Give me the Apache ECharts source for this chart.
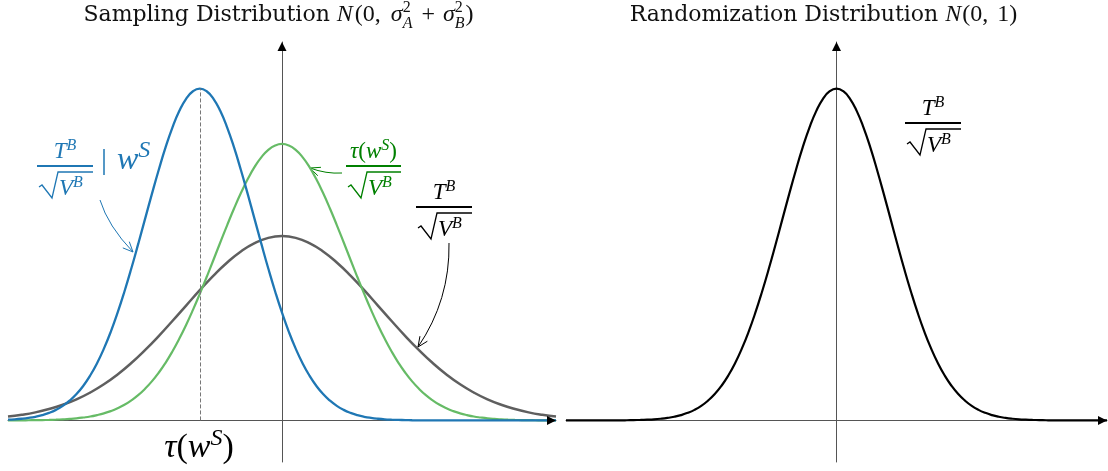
<!DOCTYPE html>
<html>
<head>
<meta charset="utf-8">
<script src="https://cdn.jsdelivr.net/npm/echarts@6/dist/echarts.min.js"></script>
<style>
    html, body { margin: 0; padding: 0; background: #fff; }
    #cn { width: 1108px; height: 471px; }
</style>
</head>
<body>
<div id="cn"></div>
<script>
'use strict';

// x positions, step 0.125 (blue, green, black curves)
const arrXFine = [-5, -4.875, -4.75, -4.625, -4.5, -4.375, -4.25, -4.125, -4, -3.875, -3.75, -3.625, -3.5, -3.375, -3.25, -3.125, -3, -2.875, -2.75, -2.625,
    -2.5, -2.375, -2.25, -2.125, -2, -1.875, -1.75, -1.625, -1.5, -1.375, -1.25, -1.125, -1, -0.875, -0.75, -0.625, -0.5, -0.375, -0.25, -0.125,
    0, 0.125, 0.25, 0.375, 0.5, 0.625, 0.75, 0.875, 1, 1.125, 1.25, 1.375, 1.5, 1.625, 1.75, 1.875, 2, 2.125, 2.25, 2.375,
    2.5, 2.625, 2.75, 2.875, 3, 3.125, 3.25, 3.375, 3.5, 3.625, 3.75, 3.875, 4, 4.125, 4.25, 4.375, 4.5, 4.625, 4.75, 4.875, 5];
// x positions, step 0.25 (gray curve)
const arrX = [-5, -4.75, -4.5, -4.25, -4, -3.75, -3.5, -3.25, -3, -2.75, -2.5, -2.25, -2, -1.75, -1.5, -1.25, -1, -0.75, -0.5, -0.25,
    0, 0.25, 0.5, 0.75, 1, 1.25, 1.5, 1.75, 2, 2.25, 2.5, 2.75, 3, 3.25, 3.5, 3.75, 4, 4.25, 4.5, 4.75, 5];

// left panel: T^B/sqrt(V^B) | w^S  (shifted, narrow)
const arrBlue = [0.0009, 0.0013, 0.0020, 0.0030, 0.0044, 0.0064, 0.0091, 0.0127, 0.0175, 0.0238, 0.0317, 0.0417, 0.0540, 0.0688, 0.0863, 0.1065, 0.1295, 0.1550, 0.1826, 0.2119,
    0.2420, 0.2721, 0.3011, 0.3282, 0.3521, 0.3719, 0.3867, 0.3958, 0.3989, 0.3958, 0.3867, 0.3719, 0.3521, 0.3282, 0.3011, 0.2721, 0.2420, 0.2119, 0.1826, 0.1550,
    0.1295, 0.1065, 0.0863, 0.0688, 0.0540, 0.0417, 0.0317, 0.0238, 0.0175, 0.0127, 0.0091, 0.0064, 0.0044, 0.0030, 0.0020, 0.0013, 0.0009, 0.0006, 0.0004, 0.0002,
    0.0001, 0.0001, 0, 0, 0, 0, 0, 0, 0, 0, 0, 0, 0, 0, 0, 0, 0, 0, 0, 0, 0];
// left panel: tau(w^S)/sqrt(V^B)
const arrGreen = [0.0001, 0.0001, 0.0001, 0.0002, 0.0003, 0.0004, 0.0006, 0.0009, 0.0013, 0.0018, 0.0025, 0.0035, 0.0047, 0.0064, 0.0085, 0.0112, 0.0146, 0.0188, 0.0241, 0.0304,
    0.0380, 0.0469, 0.0573, 0.0693, 0.0829, 0.0981, 0.1148, 0.1329, 0.1522, 0.1724, 0.1932, 0.2142, 0.2349, 0.2548, 0.2734, 0.2902, 0.3048, 0.3166, 0.3253, 0.3306,
    0.3324, 0.3306, 0.3253, 0.3166, 0.3048, 0.2902, 0.2734, 0.2548, 0.2349, 0.2142, 0.1932, 0.1724, 0.1522, 0.1329, 0.1148, 0.0981, 0.0829, 0.0693, 0.0573, 0.0469,
    0.0380, 0.0304, 0.0241, 0.0188, 0.0146, 0.0112, 0.0085, 0.0064, 0.0047, 0.0035, 0.0025, 0.0018, 0.0013, 0.0009, 0.0006, 0.0004, 0.0003, 0.0002, 0.0001, 0.0001, 0.0001];
// left panel: T^B/sqrt(V^B) (wide)
const arrGray = [0.0047, 0.0068, 0.0097, 0.0137, 0.0188, 0.0253, 0.0335, 0.0434, 0.0553, 0.0690, 0.0845, 0.1014, 0.1195, 0.1381, 0.1566, 0.1741, 0.1899, 0.2032, 0.2132, 0.2195,
    0.2216, 0.2195, 0.2132, 0.2032, 0.1899, 0.1741, 0.1566, 0.1381, 0.1195, 0.1014, 0.0845, 0.0690, 0.0553, 0.0434, 0.0335, 0.0253, 0.0188, 0.0137, 0.0097, 0.0068, 0.0047];
// right panel: N(0,1)
const arrBlack = [0, 0, 0, 0, 0, 0, 0, 0.0001, 0.0001, 0.0002, 0.0004, 0.0006, 0.0009, 0.0013, 0.0020, 0.0030, 0.0044, 0.0064, 0.0091, 0.0127,
    0.0175, 0.0238, 0.0317, 0.0417, 0.0540, 0.0688, 0.0863, 0.1065, 0.1295, 0.1550, 0.1826, 0.2119, 0.2420, 0.2721, 0.3011, 0.3282, 0.3521, 0.3719, 0.3867, 0.3958,
    0.3989, 0.3958, 0.3867, 0.3719, 0.3521, 0.3282, 0.3011, 0.2721, 0.2420, 0.2119, 0.1826, 0.1550, 0.1295, 0.1065, 0.0863, 0.0688, 0.0540, 0.0417, 0.0317, 0.0238,
    0.0175, 0.0127, 0.0091, 0.0064, 0.0044, 0.0030, 0.0020, 0.0013, 0.0009, 0.0006, 0.0004, 0.0002, 0.0001, 0.0001, 0, 0, 0, 0, 0, 0, 0];

const blueCenter = -1.5; // tau(w^S), marked with the dashed line
const blueTop = 0.3989;

const xMin = -5, xMax = 5;
const yMin = -0.05, yMax = 0.455;

const chart = echarts.init(document.getElementById('cn'));

const toPairs = (xs, arr) => xs.map((x, i) => [x, arr[i]]);

const mkX = gridIndex => ({
    type: 'value', gridIndex: gridIndex, min: xMin, max: xMax,
    axisLine: { show: true, onZero: true, lineStyle: { color: '#555', width: 1 } },
    axisTick: { show: false }, axisLabel: { show: false }, splitLine: { show: false }
});
const mkY = gridIndex => ({
    type: 'value', gridIndex: gridIndex, min: yMin, max: yMax,
    axisLine: { show: true, onZero: true, lineStyle: { color: '#555', width: 1 } },
    axisTick: { show: false }, axisLabel: { show: false }, splitLine: { show: false }
});
const mkLine = (name, xs, arr, color, width, idx) => ({
    name: name, type: 'line', xAxisIndex: idx, yAxisIndex: idx,
    data: toPairs(xs, arr), smooth: true, showSymbol: false, symbol: 'none',
    lineStyle: { color: color, width: width }, silent: true
});

const option = {
    animation: false,
    backgroundColor: '#fff',
    grid: [
        { left: 8, right: 552, top: 42, bottom: 9, containLabel: false },
        { left: 566, right: 1, top: 42, bottom: 9, containLabel: false }
    ],
    xAxis: [mkX(0), mkX(1)],
    yAxis: [mkY(0), mkY(1)],
    series: [
        mkLine('gray', arrX, arrGray, '#5f5f5f', 2.5, 0),
        mkLine('green', arrXFine, arrGreen, '#66bb66', 2.2, 0),
        Object.assign(mkLine('blue', arrXFine, arrBlue, '#1f77b4', 2.3, 0), {
            markLine: {
                silent: true, symbol: ['none', 'none'], label: { show: false },
                lineStyle: { color: '#777', width: 1, type: [4, 2] },
                data: [[{ coord: [blueCenter, 0] }, { coord: [blueCenter, blueTop] }]]
            }
        }),
        mkLine('black', arrXFine, arrBlack, '#000', 2.2, 1)
    ]
};
chart.setOption(option);

// ---- math text helpers (pieces laid out with canvas measureText)
const ctx2d = document.createElement('canvas').getContext('2d');
function fontOf(kind, size) {
    if (kind === 'r') return size + 'px "DejaVu Serif"';
    if (kind === 'i') return 'italic ' + size + 'px "Liberation Serif"';
    return size + 'px "Liberation Serif"';
}
function textW(t, font) {
    ctx2d.font = font;
    return ctx2d.measureText(t).width;
}
// tok: [text, kind, size, rise, extraSpace]  or  {sup: [...], sub: [...]} stacked
function mathRow(toks, x, base, color, align) {
    const pieces = [];
    let cur = 0;
    toks.forEach(tk => {
        const group = Array.isArray(tk) ? [tk] : [tk.sup, tk.sub];
        let w = 0;
        group.forEach(p => {
            const f = fontOf(p[1], p[2]);
            pieces.push({ t: p[0], f: f, s: p[2], dx: cur, r: p[3] || 0 });
            w = Math.max(w, textW(p[0], f) + (p[4] || 0));
        });
        cur += w;
    });
    const x0 = align === 'center' ? x - cur / 2 : x;
    return pieces.map(p => ({
        type: 'text', silent: true, x: x0 + p.dx, y: base - p.r - 0.34 * p.s,
        style: { text: p.t, font: p.f, fill: color, align: 'left', verticalAlign: 'middle' }
    }));
}
function frac(cx, barY, numToks, color, halfW) {
    let els = mathRow(numToks, cx, barY - 6, color, 'center');
    els.push({ type: 'line', silent: true, shape: { x1: cx - halfW, y1: barY, x2: cx + halfW, y2: barY }, style: { stroke: color, lineWidth: 1.8 } });
    els.push({
        type: 'polyline', silent: true,
        shape: { points: [[cx - halfW + 2, barY + 21], [cx - halfW + 5, barY + 19], [cx - halfW + 15, barY + 32], [cx - halfW + 21, barY + 6], [cx + halfW, barY + 6]] },
        style: { stroke: color, lineWidth: 1.3, fill: null }
    });
    els = els.concat(mathRow([['V', 'i', 23], ['B', 'i', 16, 9]], cx - halfW + 22, barY + 31, color, 'left'));
    return els;
}
function curvedArrow(x1, y1, cpx, cpy, x2, y2, color) {
    const a = Math.atan2(y2 - cpy, x2 - cpx);
    const L = 11, th = 0.42;
    return [
        { type: 'bezierCurve', silent: true, shape: { x1: x1, y1: y1, cpx1: cpx, cpy1: cpy, x2: x2, y2: y2 }, style: { stroke: color, lineWidth: 1, fill: null } },
        {
            type: 'polyline', silent: true,
            shape: { points: [[x2 - L * Math.cos(a - th), y2 - L * Math.sin(a - th)], [x2, y2], [x2 - L * Math.cos(a + th), y2 - L * Math.sin(a + th)]] },
            style: { stroke: color, lineWidth: 1, fill: null }
        }
    ];
}
function axisHead(tip, dir) {
    const s = 4.5, l = 9;
    const pts = dir === 'right'
        ? [[tip[0], tip[1]], [tip[0] - l, tip[1] - s], [tip[0] - l, tip[1] + s]]
        : [[tip[0], tip[1]], [tip[0] - s, tip[1] + l], [tip[0] + s, tip[1] + l]];
    return { type: 'polygon', silent: true, z: 10, shape: { points: pts }, style: { fill: '#000', stroke: null } };
}

const sup2 = (sub) => ({ sup: ['2', 'u', 16, 10, 1], sub: [sub, 'i', 16, -6, 1] });

let arrGraphic = [];
// titles
arrGraphic = arrGraphic.concat(mathRow([
    ['Sampling Distribution ', 'r', 22], ['N', 'i', 24, 0, 2], ['(0, ', 'u', 24, 0, 4], ['σ', 'i', 24], sup2('A'),
    ['', 'u', 24, 0, 8], ['+', 'u', 24, 0, 8], ['σ', 'i', 24], sup2('B'), [')', 'u', 24]
], 278.5, 23, '#111', 'center'));
arrGraphic = arrGraphic.concat(mathRow([
    ['Randomization Distribution ', 'r', 22], ['N', 'i', 24, 0, 1], ['(0, ', 'u', 24, 0, 3], ['1)', 'u', 24]
], 823.5, 23, '#111', 'center'));

// annotations
const TB = [['T', 'i', 23], ['B', 'i', 16, 9]];
arrGraphic = arrGraphic.concat(frac(65, 166, TB, '#1f77b4', 28));
arrGraphic = arrGraphic.concat(mathRow([['|', 'u', 30, 0, 10], ['w', 'i', 32], ['S', 'i', 24, 12]], 101, 171, '#1f77b4', 'left'));
arrGraphic = arrGraphic.concat(curvedArrow(100, 200, 108, 226, 133, 252, '#1f77b4'));

arrGraphic = arrGraphic.concat(frac(373.5, 166, [['τ', 'i', 23], ['(', 'u', 23], ['w', 'i', 23], ['S', 'i', 16, 9], [')', 'u', 23]], '#008000', 27.5));
arrGraphic = arrGraphic.concat(curvedArrow(342, 173, 326, 174, 310, 168, '#008000'));

arrGraphic = arrGraphic.concat(frac(444, 207, TB, '#000', 28));
arrGraphic = arrGraphic.concat(curvedArrow(449, 243, 450, 300, 418, 347, '#000'));

arrGraphic = arrGraphic.concat(frac(933, 123, TB, '#000', 28));

arrGraphic = arrGraphic.concat(mathRow([['τ', 'i', 34], ['(', 'u', 34], ['w', 'i', 34], ['S', 'i', 24, 13], [')', 'u', 34]], 199, 460, '#000', 'center'));

// arrow heads at the axis ends
[0, 1].forEach(g => {
    arrGraphic.push(axisHead(chart.convertToPixel({ gridIndex: g }, [xMax, 0]), 'right'));
    arrGraphic.push(axisHead(chart.convertToPixel({ gridIndex: g }, [0, yMax]), 'up'));
});

chart.setOption({ graphic: arrGraphic });
</script>
</body>
</html>
